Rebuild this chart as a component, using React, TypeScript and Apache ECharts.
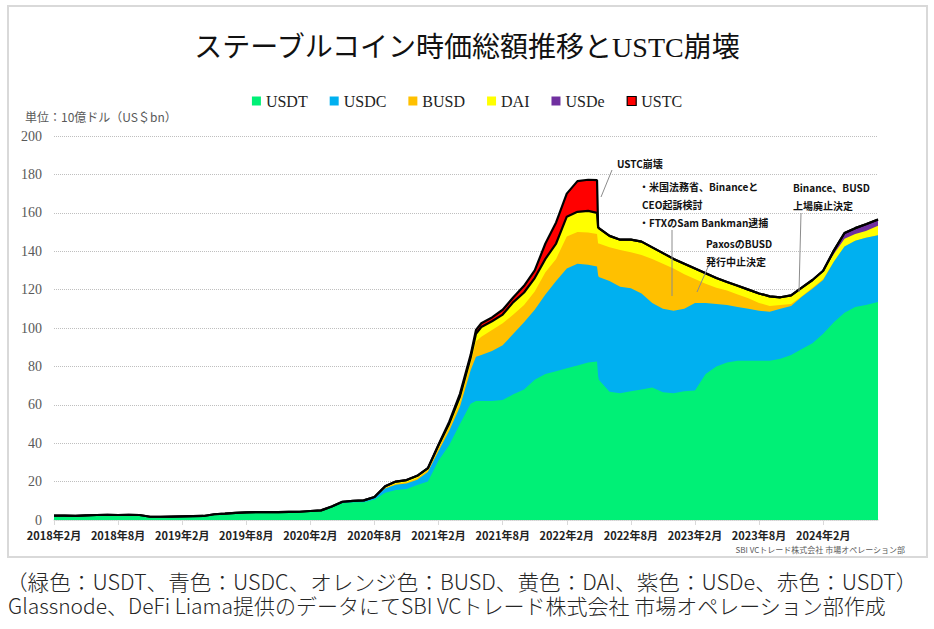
import React, { useEffect, useRef } from "react";
import * as echarts from "echarts";

// ---- data (US$ bn) ----
const dates = [
  "2018-02-01","2018-03-01","2018-04-01","2018-05-01","2018-06-01","2018-07-01","2018-08-01","2018-09-01","2018-10-01","2018-11-01",
  "2018-12-01","2019-01-01","2019-02-01","2019-03-01","2019-04-01","2019-05-01","2019-06-01","2019-07-01","2019-08-01","2019-09-01",
  "2019-10-01","2019-11-01","2019-12-01","2020-01-01","2020-02-01","2020-03-01","2020-04-01","2020-05-01","2020-06-01","2020-07-01",
  "2020-08-01","2020-09-01","2020-10-01","2020-11-01","2020-12-01","2021-01-01","2021-02-01","2021-03-01","2021-04-01","2021-05-01",
  "2021-05-16","2021-06-01","2021-07-01","2021-08-01","2021-09-01","2021-10-01","2021-11-01","2021-12-01","2022-01-01","2022-02-01",
  "2022-03-01","2022-04-01","2022-04-26","2022-04-29","2022-05-01","2022-06-01","2022-07-01","2022-08-01","2022-09-01","2022-10-01",
  "2022-11-01","2022-12-01","2023-01-01","2023-02-01","2023-03-01","2023-04-01","2023-05-01","2023-06-01","2023-07-01","2023-08-01",
  "2023-09-01","2023-10-01","2023-11-01","2023-12-01","2024-01-01","2024-02-01","2024-03-01","2024-04-01","2024-05-01","2024-06-01",
  "2024-07-05",
];

const usdt = [
  2.3, 2.3, 2.2, 2.4, 2.6, 2.7, 2.6, 2.7, 2.6, 1.7,
  1.7, 1.8, 1.9, 2.0, 2.1, 3.0, 3.3, 3.7, 4.0, 4.1,
  4.1, 4.1, 4.2, 4.3, 4.4, 4.7, 6.5, 8.9, 9.3, 9.3,
  10.7, 14.2, 15.6, 16.2, 18.2, 20, 31, 39, 50, 60.5,
  62, 62, 62, 62.5, 65.5, 68, 73, 76, 77.5, 79,
  80.5, 82, 82.5, 75, 73, 66.8, 66, 67, 68, 69,
  66.5, 66, 67, 67.5, 76, 80, 82, 83, 83, 83,
  83, 84, 86, 89, 92, 97, 103, 108, 111, 112,
  113.5,
];

const usdc = [
  0, 0, 0, 0, 0, 0, 0, 0, 0, 0,
  0, 0, 0, 0, 0, 0, 0, 0, 0, 0,
  0, 0, 0, 0, 0.3, 0.3, 0.5, 0.6, 0.7, 0.9,
  1.1, 2.2, 2.8, 2.8, 2.8, 5, 5, 7.5, 9, 17.5,
  23, 24, 26, 28.5, 31.5, 35, 36.5, 41.5, 47, 52,
  53, 51, 49.5, 52.5, 53.5, 57.7, 55.5, 53.7, 50, 44,
  43.5, 43, 43, 45.5, 37, 32.5, 30, 28, 27, 26,
  25.5, 26, 25.5, 27.3, 28.5, 28, 31.5, 34.5, 34.5, 35,
  34.8,
];

const busd = [
  0, 0, 0, 0, 0, 0, 0, 0, 0, 0,
  0, 0, 0, 0, 0, 0, 0, 0, 0, 0,
  0, 0, 0, 0, 0, 0, 0, 0, 0, 0,
  0, 0.4, 0.5, 0.6, 0.8, 1, 1.5, 2, 2.5, 3.5,
  8, 9.5, 11, 11.5, 10, 9, 9.5, 11.5, 11.5, 16.6,
  16.5, 16.8, 17, 16.5, 17.5, 17.5, 19.1, 18.8, 20, 23,
  23.5, 22, 18, 12.5, 10, 8.5, 7.5, 6.5, 5.5, 4,
  3, 2, 1, 0.2, 0.5, 0.5, 0, 0, 0, 0,
  0,
];

const dai = [
  0, 0, 0, 0, 0, 0, 0, 0, 0, 0,
  0, 0, 0, 0, 0, 0, 0, 0, 0, 0,
  0, 0, 0, 0, 0, 0, 0, 0, 0, 0,
  0.2, 0.8, 1.1, 1.2, 1.2, 1, 1.5, 1.8, 2.8, 3,
  4, 5, 4.5, 4.5, 6.5, 6.5, 7, 7, 8, 10.4,
  10.5, 11.2, 11, 8.5, 8, 6, 5.4, 6.5, 7, 6,
  5.5, 5, 5.5, 5.5, 5.5, 5, 4.5, 4.5, 4.5, 5,
  5, 4, 4.5, 4.5, 4, 4, 4, 4, 3.5, 3.5,
  5,
];

const usde = [
  0, 0, 0, 0, 0, 0, 0, 0, 0, 0,
  0, 0, 0, 0, 0, 0, 0, 0, 0, 0,
  0, 0, 0, 0, 0, 0, 0, 0, 0, 0,
  0, 0, 0, 0, 0, 0, 0, 0, 0, 0,
  0, 0, 0, 0, 0, 0, 0, 0, 0, 0,
  0, 0, 0, 0, 0, 0, 0, 0, 0, 0,
  0, 0, 0, 0, 0, 0, 0, 0, 0, 0,
  0, 0, 0, 0, 0, 0.3, 1.8, 3, 3, 3.5,
  3.2,
];

const ustc = [
  0, 0, 0, 0, 0, 0, 0, 0, 0, 0,
  0, 0, 0, 0, 0, 0, 0, 0, 0, 0,
  0, 0, 0, 0, 0, 0, 0, 0, 0, 0,
  0, 0, 0, 0, 0, 0, 0.3, 0.9, 1.4, 1.5,
  2, 2, 2, 2.5, 2.5, 3.5, 4, 8, 11, 12,
  16, 16.2, 17, 0, 0, 0, 0, 0, 0, 0,
  0, 0, 0, 0, 0, 0, 0, 0, 0, 0,
  0, 0, 0, 0, 0, 0, 0, 0, 0, 0,
  0,
];

const seriesNames = ["USDT", "USDC", "BUSD", "DAI", "USDe", "USTC"];
const seriesValues = [usdt, usdc, busd, dai, usde, ustc];
const seriesColors = ["#00f076", "#00b0f0", "#ffc000", "#ffff00", "#7030a0", "#ff0000"];

const xTickDates = [
  "2018-02-01","2018-08-01","2019-02-01","2019-08-01","2020-02-01","2020-08-01","2021-02-01",
  "2021-08-01","2022-02-01","2022-08-01","2023-02-01","2023-08-01","2024-02-01",
];
const xTickLabels = [
  "2018年2月","2018年8月","2019年2月","2019年8月","2020年2月","2020年8月","2021年2月",
  "2021年8月","2022年2月","2022年8月","2023年2月","2023年8月","2024年2月",
];
const yMin = 0;
const yMax = 200;
const yInterval = 20;

const titleText = "ステーブルコイン時価総額推移とUSTC崩壊";
const unitText = "単位：10億ドル（US＄bn）";
const sourceText = "SBI VCトレード株式会社 市場オペレーション部";
const noteLine1 = "（緑色：USDT、青色：USDC、オレンジ色：BUSD、黄色：DAI、紫色：USDe、赤色：USDT）";
const noteLine2 = "Glassnode、DeFi Liama提供のデータにてSBI VCトレード株式会社 市場オペレーション部作成";

const annotationTexts = [
  { text: "USTC崩壊", x: 617, y: 163 },
  { text: "・米国法務省、Binanceと", x: 639, y: 186 },
  { text: "CEO起訴検討", x: 642, y: 204 },
  { text: "・FTXのSam Bankman逮捕", x: 639, y: 222 },
  { text: "PaxosのBUSD", x: 706, y: 243 },
  { text: "発行中止決定", x: 706, y: 261 },
  { text: "Binance、BUSD", x: 793, y: 187 },
  { text: "上場廃止決定", x: 793, y: 205 },
];
const annotationLines = [
  [612, 170, 601, 197],
  [672, 230, 672, 296],
  [708, 267, 697, 292],
  [801, 213, 799, 292],
];

// month index counted from 2018-02
const monthIndex = (d: string) => {
  const [y, m, dd] = d.split("-").map(Number);
  return (y - 2018) * 12 + (m - 2) + (dd - 1) / 30;
};

const SANS = "'Noto Sans CJK JP', 'Noto Sans', sans-serif";
const SERIF = "'Liberation Serif', 'Noto Sans CJK JP', serif";

export default function App() {
  const ref = useRef<HTMLDivElement>(null);

  useEffect(() => {
    if (!ref.current) return;
    const chart = echarts.init(ref.current, undefined, { renderer: "svg" });
    const xs = dates.map(monthIndex);
    const tickXs = xTickDates.map(monthIndex);

    // cumulative (stacked) levels
    const cum: number[][] = [];
    seriesValues.forEach((arr, k) => {
      cum.push(arr.map((v, j) => (k === 0 ? v : cum[k - 1][j] + v)));
    });

    const areaSeries: any[] = [];
    for (let k = seriesNames.length - 1; k >= 0; k--) {
      areaSeries.push({
        name: seriesNames[k],
        type: "line",
        data: xs.map((x, j) => [x, +cum[k][j].toFixed(3)]),
        symbol: "none",
        showSymbol: false,
        color: seriesColors[k],
        lineStyle: { width: 0 },
        areaStyle: { color: seriesColors[k], opacity: 1 },
        z: 2,
        silent: true,
      });
    }
    const outlineSeries = [4, 5].map((k) => ({
      name: "_outline" + k,
      type: "line",
      data: xs.map((x, j) => [x, +cum[k][j].toFixed(3)]),
      symbol: "none",
      showSymbol: false,
      lineStyle: { color: "#000", width: 2.2 },
      z: 5,
      silent: true,
    }));

    const graphics: any[] = [
      {
        type: "rect",
        shape: { x: 8, y: 6, width: 919, height: 551 },
        style: { fill: "none", stroke: "#d9d9d9", lineWidth: 2 },
        silent: true,
        z: -10,
      },
      {
        type: "text",
        x: 25,
        y: 116,
        style: { text: unitText, fontSize: 12, fontFamily: SANS, fill: "#595959", verticalAlign: "middle" },
      },
      {
        type: "text",
        x: 905,
        y: 549,
        style: { text: sourceText, fontSize: 8, fontFamily: SANS, fill: "#595959", align: "right", verticalAlign: "middle" },
      },
      {
        type: "text",
        x: 6,
        y: 581,
        scaleX: 1.03,
        style: { text: noteLine1, fontSize: 21, lineHeight: 22, fontFamily: SANS, fontWeight: 300, fill: "#262626", verticalAlign: "middle" },
      },
      {
        type: "text",
        x: 8,
        y: 605,
        style: { text: noteLine2, fontSize: 21, lineHeight: 22, fontFamily: SANS, fontWeight: 300, fill: "#262626", verticalAlign: "middle" },
      },
      ...annotationLines.map(([x1, y1, x2, y2]) => ({
        type: "line",
        shape: { x1, y1, x2, y2 },
        style: { stroke: "#8c8c8c", lineWidth: 1 },
        z: 10,
      })),
      ...annotationTexts.map((a) => ({
        type: "text",
        x: a.x,
        y: a.y,
        z: 10,
        style: { text: a.text, fontSize: 10, fontWeight: "bold", fontFamily: SANS, fill: "#111", verticalAlign: "middle" },
      })),
    ];

    chart.setOption({
      animation: false,
      title: {
        text: titleText,
        left: "center",
        top: 28,
        textStyle: { fontFamily: SERIF, fontSize: 28, fontWeight: "normal", color: "#111" },
      },
      legend: {
        top: 88,
        left: "center",
        icon: "rect",
        itemWidth: 9,
        itemHeight: 9,
        itemGap: 22,
        textStyle: { fontFamily: SERIF, fontSize: 16, color: "#222" },
        data: seriesNames.map((name, i) => ({
          name,
          itemStyle: {
            color: seriesColors[i],
            borderColor: i === 5 ? "#000" : seriesColors[i],
            borderWidth: i === 5 ? 1.2 : 0,
          },
        })),
      },
      grid: { left: 54, right: 56, top: 136, bottom: 109, containLabel: false },
      xAxis: {
        type: "value",
        min: xs[0],
        max: xs[xs.length - 1],
        axisLine: { lineStyle: { color: "#d9d9d9", width: 1.5 } },
        axisTick: { show: true, customValues: tickXs, length: 5, lineStyle: { color: "#d9d9d9" } },
        axisLabel: {
          customValues: tickXs,
          formatter: (v: number) => {
            const k = tickXs.findIndex((t) => Math.abs(t - v) < 0.01);
            return k >= 0 ? xTickLabels[k] : "";
          },
          fontFamily: SANS,
          fontWeight: "bold",
          fontSize: 11,
          color: "#222",
          margin: 9,
          hideOverlap: false,
        },
        splitLine: { show: false },
      },
      yAxis: {
        type: "value",
        min: yMin,
        max: yMax,
        interval: yInterval,
        axisLine: { show: false },
        axisTick: { show: false },
        axisLabel: { fontFamily: SERIF, fontSize: 14, color: "#595959", margin: 12 },
        splitLine: { lineStyle: { type: "dotted", color: "#bfbfbf", width: 1 } },
      },
      series: [...areaSeries, ...outlineSeries],
      graphic: graphics,
    });

    return () => chart.dispose();
  }, []);

  return (
    <div
      ref={ref}
      style={{ position: "fixed", left: 0, top: 0, width: 934, height: 629, background: "#fff" }}
    />
  );
}
